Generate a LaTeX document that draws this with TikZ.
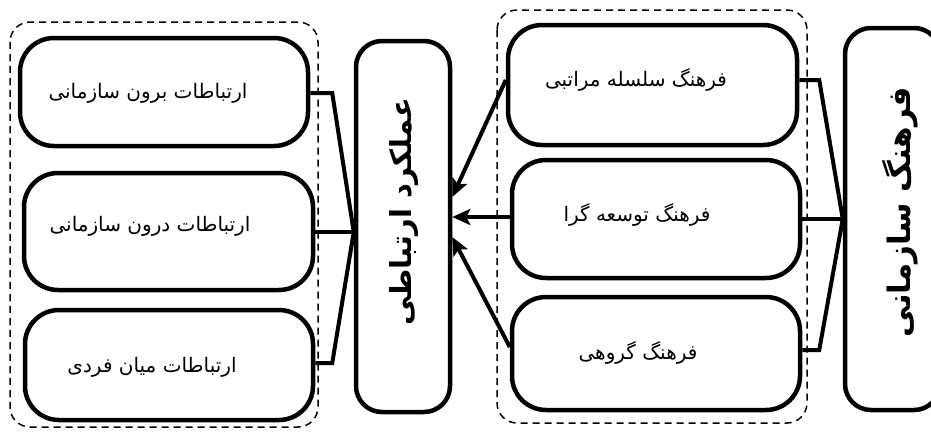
\documentclass[tikz,border=0pt]{standalone}
\usepackage{fontspec}
\newfontfamily\arabicfont[Script=Arabic]{DejaVu Sans}
\TeXXeTstate=1
\usetikzlibrary{arrows.meta,calc}
\tikzset{
  box/.style={draw, line width=4.5pt, rounded corners=34pt, inner sep=0pt},
  vbox/.style={draw, line width=4.5pt, rounded corners=26pt, inner sep=0pt},
  container/.style={draw, line width=1.5pt, rounded corners=20pt, dash pattern=on 7pt off 5pt},
  txt/.style={font=\arabicfont\fontsize{20}{24}\selectfont, inner sep=0pt},
  vtxt/.style={font=\arabicfont\bfseries\fontsize{29}{34}\selectfont, inner sep=0pt, rotate=90},
  conn/.style={line width=4pt, line join=miter},
  arr/.style={line width=4pt, -{Stealth[length=18pt,width=16pt,inset=4pt]}}
}
\begin{document}
\begin{tikzpicture}[x=1pt,y=-1pt]
\useasboundingbox (0,0) rectangle (931,432);
% containers
\draw[container] (10,22) rectangle (318,427);
\draw[container] (497,10) rectangle (807,423);
% left boxes
\node[box, minimum width=288pt, minimum height=108pt] (L1) at (164,92) {};
\node[box, minimum width=289pt, minimum height=117pt] (L2) at (168.5,231.5) {};
\node[box, minimum width=288pt, minimum height=110pt] (L3) at (169,365) {};
\node[txt] (tL1) at (148,93) {\beginR ارتباطات برون سازمانی\endR};
\node[txt] (tL2) at (150,226) {\beginR ارتباطات درون سازمانی\endR};
\node[txt] (tL3) at (152,367) {\beginR ارتباطات میان فردی\endR};
% center box
\node[vbox, minimum width=94pt, minimum height=371pt] (C) at (403,226.5) {};
\node[vtxt] (tC) at (404,212) {\beginR عملکرد ارتباطی\endR};
% right boxes
\node[box, minimum width=289pt, minimum height=120pt] (R1) at (652.5,85) {};
\node[box, minimum width=288pt, minimum height=118pt] (R2) at (656,219) {};
\node[box, minimum width=288pt, minimum height=113pt] (R3) at (656,353.5) {};
\node[txt] (tR1) at (636,80) {\beginR فرهنگ سلسله مراتبی\endR};
\node[txt] (tR2) at (637,215) {\beginR فرهنگ توسعه گرا\endR};
\node[txt] (tR3) at (638,353) {\beginR فرهنگ گروهی\endR};
% far right box
\node[vbox, minimum width=95pt, minimum height=382pt] (FR) at (892.5,219) {};
\node[vtxt, font=\arabicfont\bfseries\fontsize{31}{36}\selectfont] (tFR) at (900,212) {\beginR فرهنگ سازمانی\endR};
% left connectors
\coordinate (cj) at ([yshift=-5.5pt]C.west);
\draw[conn] ([yshift=-1pt]L1.east) -- ++(22,0) -- (cj);
\draw[conn] (L2.east) -- (L2.east -| C.west);
\draw[conn] ([yshift=2pt]L3.east) -- ++(17,0) -- (cj);
% right connectors
\coordinate (fj) at (FR.west);
\draw[conn] ([yshift=5pt]R1.east) -- ++(20,0) -- (fj);
\draw[conn] (R2.east) -- (FR.west);
\draw[conn] ([yshift=3.5pt]R3.east) -- ++(17,0) -- (fj);
% arrows
\draw[arr] ([yshift=5pt]R1.west) -- ([yshift=29.5pt]C.east);
\draw[arr] ([yshift=2pt]R2.west) -- ([yshift=9.5pt]C.east);
\draw[arr] ([yshift=6.5pt]R3.west) -- ([yshift=-10.5pt]C.east);
\end{tikzpicture}
\end{document}
